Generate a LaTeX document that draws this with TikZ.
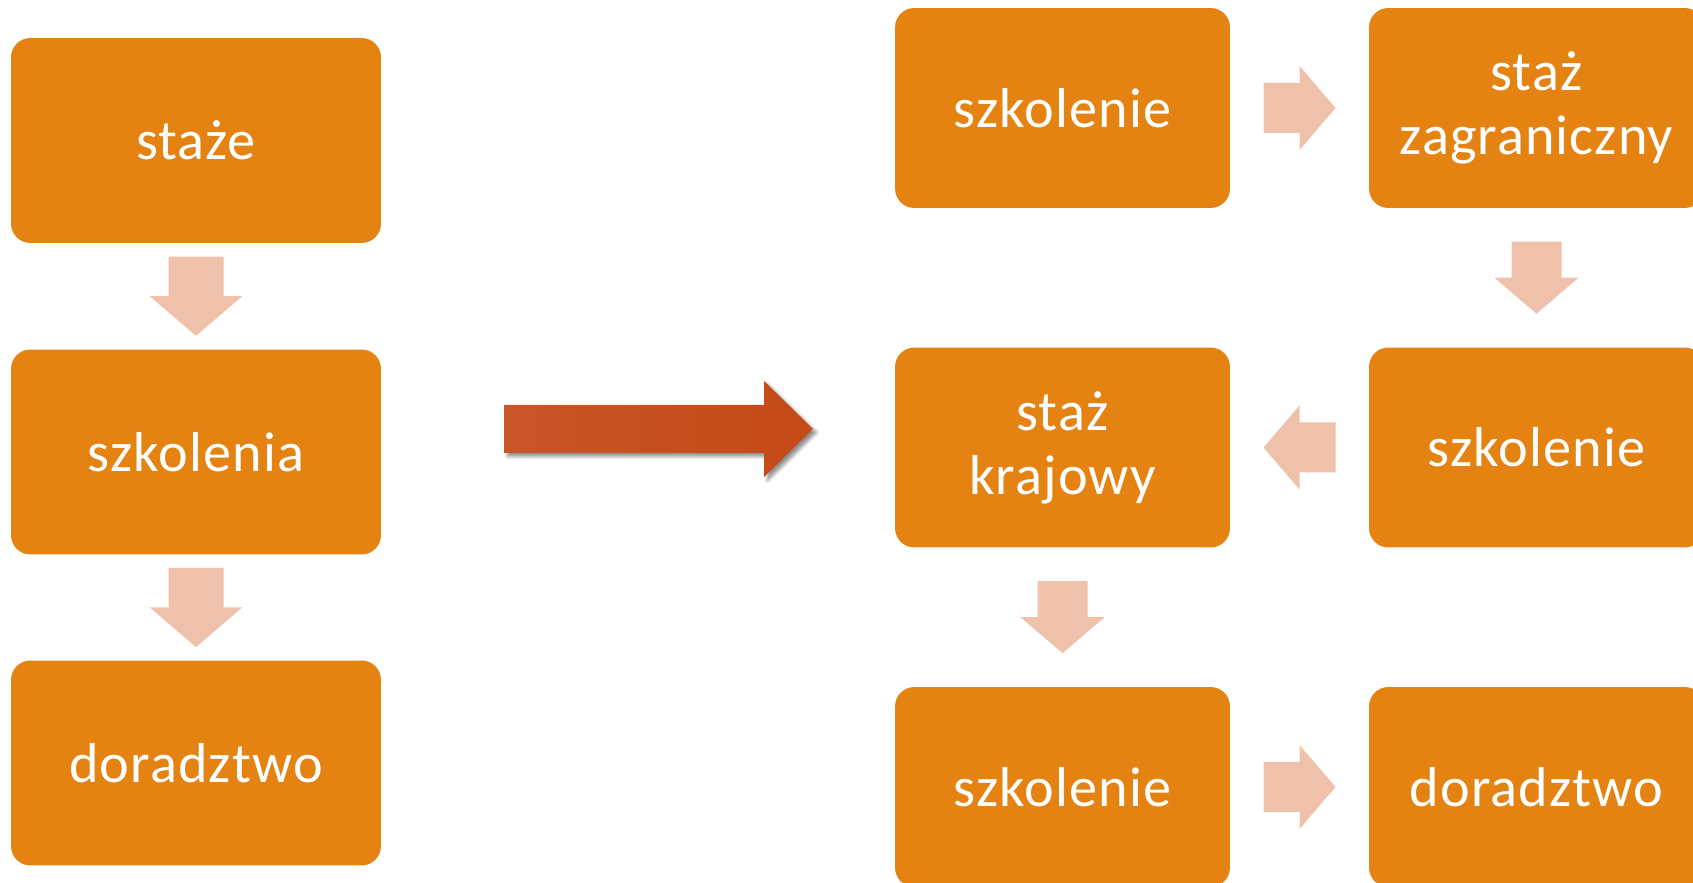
\documentclass[tikz,border=0pt]{standalone}
\usepackage{fontspec}
\setmainfont[LetterSpace=2]{Carlito}
\usetikzlibrary{calc,shadows.blur}

\definecolor{boxorange}{RGB}{228,131,18}
\definecolor{palearrow}{RGB}{239,193,170}
\definecolor{redarrow}{RGB}{196,74,23}
\definecolor{redarrowlight}{RGB}{200,86,40}

\tikzset{
  stepbox/.style={fill=boxorange, rounded corners=11pt, inner sep=0pt, outer sep=0pt,
    text=white, align=center, font=\fontsize{32}{36.3}\selectfont},
  leftbox/.style={stepbox, minimum width=7.4cm, minimum height=4.1cm},
  rightbox/.style={stepbox, minimum width=6.7cm, minimum height=4cm},
  pale arrow/.pic={
    \fill[palearrow] (-36,-25) -- (0,-25) -- (0,-42) -- (36,0) -- (0,42) -- (0,25) -- (-36,25) -- cycle;
  }
}

\begin{document}
\begin{tikzpicture}[x=0.02cm, y=0.02cm]

\useasboundingbox (0, 0) rectangle (1693, 882);
\clip (0, 0) rectangle (1693, 882);

% left column
\node[leftbox] (staze) at (196, 741.5) {staże};
\node[leftbox] (szkolenia) at (196, 430) {szkolenia};
\node[leftbox] (doradztwo) at (196, 119) {doradztwo};

\pic[rotate=-90, scale=1.1] at ($(staze.south)!.5!(szkolenia.north)$) {pale arrow};
\pic[rotate=-90, scale=1.1] at ($(szkolenia.south)!.5!(doradztwo.north)$) {pale arrow};

% big arrow
\path[left color=redarrowlight, right color=redarrow,
  blur shadow={shadow xshift=0.07cm, shadow yshift=-0.07cm, shadow blur steps=6, shadow opacity=45}]
  (504, 429) -- (764, 429) -- (764, 405) -- (813, 453) -- (764, 501) -- (764, 477) -- (504, 477) -- cycle;

% right grid
\node[rightbox] (szkol1) at (1062.5, 774) {szkolenie};
\node[rightbox] (zagr) at (1536.5, 774) {staż\\zagraniczny};
\node[rightbox] (kraj) at (1062.5, 434.5) {staż\\krajowy};
\node[rightbox] (szkol2) at (1536.5, 434.5) {szkolenie};
\node[rightbox] (szkol3) at (1062.5, 95) {szkolenie};
\node[rightbox] (dorad) at (1536.5, 95) {doradztwo};

\pic at ($(szkol1.east)!.5!(zagr.west)$) {pale arrow};
\pic[rotate=-90] at ($(zagr.south)!.5!(szkol2.north)$) {pale arrow};
\pic[rotate=180] at ($(szkol2.west)!.5!(kraj.east)$) {pale arrow};
\pic[rotate=-90] at ($(kraj.south)!.5!(szkol3.north)$) {pale arrow};
\pic at ($(szkol3.east)!.5!(dorad.west)$) {pale arrow};

\end{tikzpicture}
\end{document}
